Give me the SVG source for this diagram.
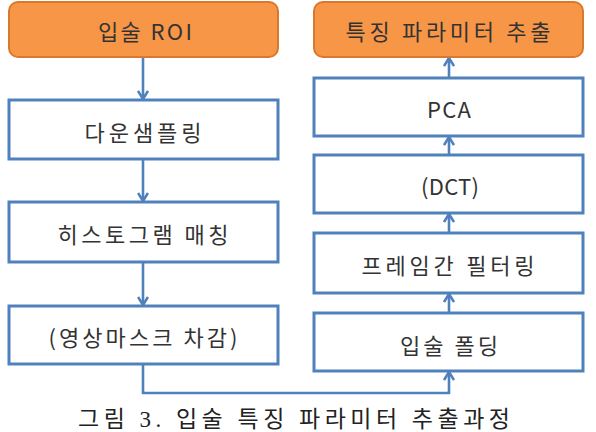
<svg xmlns="http://www.w3.org/2000/svg" width="596" height="432" viewBox="0 0 596 432">
<style>
.box{fill:#ffffff;stroke:#4F81BD;stroke-width:3}
.obox{fill:#F79646;stroke:#D9782F;stroke-width:2}
.lbl{font-family:"Noto Sans CJK KR","Malgun Gothic",sans-serif;font-size:22px;fill:#333333;text-anchor:middle;dominant-baseline:central}
.con{fill:none;stroke:#4F81BD;stroke-width:2.6}
.cap{font-family:"Liberation Serif","Noto Sans CJK KR",serif;font-size:23px;fill:#222;text-anchor:middle}
</style>
<defs>
<marker id="arr" viewBox="0 0 10 12" refX="9" refY="6" markerWidth="10" markerHeight="12" markerUnits="userSpaceOnUse" orient="auto">
<path d="M1,1 L9,6 L1,11" fill="none" stroke="#4F81BD" stroke-width="2.6"/>
</marker>
</defs>
<rect width="596" height="432" fill="#ffffff"/>
<g id="connectors">
<line class="con" x1="143" y1="57" x2="143" y2="99" marker-end="url(#arr)"/>
<line class="con" x1="143" y1="159" x2="143" y2="201" marker-end="url(#arr)"/>
<line class="con" x1="143" y1="262" x2="143" y2="305" marker-end="url(#arr)"/>
<path class="con" d="M143,364 V393 H449 V372" marker-end="url(#arr)"/>
<line class="con" x1="449" y1="313" x2="449" y2="294" marker-end="url(#arr)"/>
<line class="con" x1="449" y1="233" x2="449" y2="214" marker-end="url(#arr)"/>
<line class="con" x1="449" y1="155" x2="449" y2="137" marker-end="url(#arr)"/>
<line class="con" x1="449" y1="78" x2="449" y2="58" marker-end="url(#arr)"/>
</g>
<g id="n-roi">
<rect class="obox" x="9" y="2" width="269" height="55" rx="9"/>
<text class="lbl" x="145" y="30" textLength="94" lengthAdjust="spacing">입술 ROI</text>
</g>
<g id="n-down">
<rect class="box" x="9" y="100" width="269" height="59"/>
<text class="lbl" x="143" y="131" textLength="117" lengthAdjust="spacing">다운샘플링</text>
</g>
<g id="n-hist">
<rect class="box" x="9" y="202" width="269" height="60"/>
<text class="lbl" x="143" y="233" textLength="171" lengthAdjust="spacing">히스토그램 매칭</text>
</g>
<g id="n-mask">
<rect class="box" x="9" y="306" width="269" height="58"/>
<text class="lbl" x="143" y="336" textLength="189" lengthAdjust="spacing">(영상마스크 차감)</text>
</g>
<g id="n-feat">
<rect class="obox" x="314" y="2" width="269" height="55" rx="9"/>
<text class="lbl" x="448" y="30" textLength="205" lengthAdjust="spacing">특징 파라미터 추출</text>
</g>
<g id="n-pca">
<rect class="box" x="314" y="78" width="269" height="58"/>
<text class="lbl" x="449" y="108" textLength="44" lengthAdjust="spacing">PCA</text>
</g>
<g id="n-dct">
<rect class="box" x="314" y="155" width="269" height="58"/>
<text class="lbl" x="450" y="185" textLength="58" lengthAdjust="spacing">(DCT)</text>
</g>
<g id="n-frame">
<rect class="box" x="314" y="233" width="269" height="60"/>
<text class="lbl" x="448" y="264" textLength="173" lengthAdjust="spacing">프레임간 필터링</text>
</g>
<g id="n-fold">
<rect class="box" x="314" y="313" width="269" height="58"/>
<text class="lbl" x="449" y="344" textLength="98" lengthAdjust="spacing">입술 폴딩</text>
</g>
<text class="cap" x="294" y="427" textLength="432" lengthAdjust="spacing">그림 3. 입술 특징 파라미터 추출과정</text>
</svg>
